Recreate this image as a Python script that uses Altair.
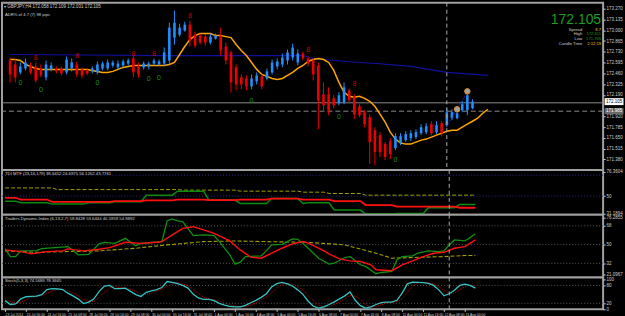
import altair as alt
import pandas as pd

# ------------------------------------------------------------------ data
bar_open = [172.621, 172.571, 172.471, 172.521, 172.558, 172.546, 172.521, 172.409, 172.509, 172.521,
            172.521, 172.471, 172.521, 172.571, 172.509, 172.496, 172.484, 172.471, 172.521, 172.521,
            172.558, 172.534, 172.558, 172.583, 172.646, 172.546, 172.534, 172.546, 172.583, 172.571,
            172.583, 172.621, 172.908, 172.945, 172.995, 173.070, 172.945, 172.933, 172.920, 172.846,
            172.896, 172.933, 172.796, 172.721, 172.534, 172.409, 172.396, 172.296, 172.359, 172.421,
            172.396, 172.471, 172.546, 172.571, 172.621, 172.658, 172.596, 172.708, 172.646, 172.621,
            172.558, 172.196, 172.196, 172.146, 172.084, 172.097, 172.246, 172.171, 172.047, 171.972,
            171.909, 171.747, 171.685, 171.572, 171.610, 171.522, 171.585, 171.622, 171.647, 171.660,
            171.709, 171.722, 171.822, 171.722, 171.834, 171.809, 171.897, 171.897, 171.997, 171.997,
            172.022]
bar_high = [172.658, 172.633, 172.596, 172.646, 172.596, 172.596, 172.571, 172.621, 172.596, 172.546,
            172.546, 172.671, 172.646, 172.608, 172.534, 172.521, 172.546, 172.608, 172.608, 172.633,
            172.621, 172.621, 172.633, 172.646, 172.683, 172.596, 172.608, 172.608, 172.646, 172.633,
            172.783, 173.095, 173.245, 173.083, 173.108, 173.120, 172.983, 172.958, 172.945, 172.958,
            172.958, 173.033, 172.846, 172.746, 172.571, 172.446, 172.434, 172.446, 172.471, 172.446,
            172.521, 172.633, 172.646, 172.708, 172.758, 172.833, 172.758, 172.733, 172.671, 172.646,
            172.596, 172.346, 172.284, 172.184, 172.221, 172.346, 172.271, 172.196, 172.072, 171.997,
            171.947, 171.784, 171.722, 171.597, 171.647, 171.709, 171.709, 171.734, 171.747, 171.759,
            171.822, 171.834, 171.859, 171.859, 171.859, 172.022, 172.009, 171.997, 172.109, 172.246,
            172.134]
bar_low = [172.346, 172.346, 172.446, 172.496, 172.446, 172.346, 172.409, 172.371, 172.484, 172.459,
           172.434, 172.446, 172.484, 172.409, 172.396, 172.434, 172.459, 172.446, 172.496, 172.496,
           172.534, 172.509, 172.534, 172.558, 172.409, 172.409, 172.509, 172.509, 172.558, 172.558,
           172.558, 172.571, 172.821, 172.920, 172.983, 172.796, 172.783, 172.821, 172.808, 172.821,
           172.883, 172.683, 172.571, 172.221, 172.246, 172.259, 172.246, 172.259, 172.321, 172.259,
           172.371, 172.446, 172.509, 172.534, 172.571, 172.621, 172.558, 172.621, 172.546, 172.371,
           171.759, 171.997, 171.934, 172.022, 172.059, 172.072, 172.097, 171.884, 171.909, 171.784,
           171.322, 171.310, 171.410, 171.372, 171.385, 171.497, 171.560, 171.597, 171.610, 171.635,
           171.685, 171.697, 171.685, 171.697, 171.672, 171.784, 171.872, 171.884, 171.972, 171.934,
           172.009]
bar_close = [172.446, 172.409, 172.546, 172.596, 172.471, 172.371, 172.434, 172.571, 172.558, 172.484,
             172.459, 172.633, 172.596, 172.446, 172.434, 172.459, 172.521, 172.571, 172.583, 172.596,
             172.596, 172.583, 172.608, 172.621, 172.471, 172.446, 172.583, 172.583, 172.621, 172.608,
             172.721, 173.033, 173.095, 173.033, 173.070, 172.871, 172.808, 172.846, 172.846, 172.920,
             172.933, 172.746, 172.621, 172.346, 172.321, 172.321, 172.296, 172.396, 172.434, 172.296,
             172.484, 172.596, 172.608, 172.658, 172.721, 172.783, 172.708, 172.646, 172.583, 172.446,
             172.121, 172.059, 171.997, 172.059, 172.184, 172.284, 172.121, 171.947, 171.934, 171.822,
             171.597, 171.472, 171.472, 171.410, 171.447, 171.672, 171.672, 171.697, 171.709, 171.722,
             171.784, 171.797, 171.709, 171.809, 171.709, 171.972, 171.972, 171.959, 172.072, 172.184,
             172.105]

ma_fast = [172.633, 172.633, 172.621, 172.571, 172.546, 172.521, 172.509, 172.509, 172.509, 172.509,
           172.509, 172.509, 172.509, 172.509, 172.509, 172.509, 172.496, 172.484, 172.471, 172.471,
           172.484, 172.509, 172.534, 172.546, 172.558, 172.558, 172.558, 172.558, 172.558, 172.558,
           172.558, 172.571, 172.596, 172.696, 172.796, 172.883, 172.933, 172.958, 172.958, 172.958,
           172.933, 172.933, 172.920, 172.908, 172.821, 172.746, 172.683, 172.596, 172.509, 172.446,
           172.421, 172.396, 172.384, 172.396, 172.434, 172.471, 172.521, 172.558, 172.608, 172.633,
           172.646, 172.633, 172.596, 172.496, 172.346, 172.221, 172.171, 172.159, 172.171, 172.146,
           172.109, 172.047, 171.947, 171.847, 171.722, 171.635, 171.585, 171.572, 171.572, 171.597,
           171.622, 171.635, 171.660, 171.685, 171.709, 171.734, 171.747, 171.747, 171.784, 171.822,
           171.859, 171.897, 171.959, 172.009]
ma_slow_i = [0, 15, 30, 45, 57, 59, 66, 72, 78, 85, 93]
ma_slow_v = [172.696, 172.690, 172.683, 172.683, 172.683, 172.646, 172.605, 172.580, 172.546, 172.471, 172.434]

up_sig_i = [5, 13, 24, 28, 35, 58, 67]
up_sig_p = [172.646, 172.683, 172.708, 172.708, 173.183, 172.746, 172.321]
dn_sig_i = [2, 6, 17, 27, 29, 47, 64, 75]
dn_sig_p = [172.334, 172.246, 172.334, 172.384, 172.396, 172.109, 171.909, 171.372]
zz_i = [85, 87, 89]
zz_p = [171.80, 172.01, 172.23]
circ_i = [87, 89]
circ_p = [172.009, 172.234]

bid_price = 172.105
bid_line = 172.090
ask_line = 171.985
cursor_bar = 85
main_ticks = [173.270, 173.135, 173.000, 172.865, 172.730, 172.595, 172.460, 172.325, 172.190,
              171.920, 171.785, 171.650, 171.515, 171.380, 171.245]

tdi_olive_i = [0, 9, 10, 33, 34, 44, 45, 56, 57, 61, 62, 68, 69, 90]
tdi_olive_v = [58.8, 58.8, 57.0, 57.0, 56.4, 56.4, 55.3, 55.3, 54.2, 54.2, 52.8, 52.8, 51.0, 51.0]
tdi_red_i = [0, 2, 3, 8, 9, 20, 21, 26, 27, 32, 33, 38, 39, 44, 45, 50, 51, 56, 57, 62, 63, 68, 69, 74, 75, 86, 87, 90]
tdi_red_v = [48.2, 48.2, 46.3, 46.3, 43.9, 43.9, 44.6, 44.6, 45.3, 45.3, 46.3, 46.3, 45.7, 45.7, 46.3, 46.3,
             47.4, 47.4, 46.3, 46.3, 44.6, 44.6, 40.4, 40.4, 38.6, 38.6, 37.5, 37.5]
tdi_green_i = [0, 2, 3, 8, 9, 15, 16, 20, 21, 26, 27, 32, 33, 38, 39, 44, 45, 50, 51, 56, 57, 58, 62, 63,
               68, 69, 74, 75, 80, 81, 86, 87, 90]
tdi_green_v = [44.6, 44.6, 42.8, 42.8, 41.4, 41.4, 42.8, 42.8, 43.9, 43.9, 51.0, 51.0, 55.3, 55.3, 45.7, 45.7,
               42.1, 42.1, 47.4, 47.4, 42.1, 42.8, 42.8, 35.0, 35.0, 30.8, 30.8, 31.4, 31.4, 37.5, 37.5, 41.0, 41.0]
tdi_levels = [72.4, 50]
tdi_ticks = [76.3604, 50, 31.1894]

trd_green_i = [0, 1, 2, 3, 6, 7, 12, 13, 14, 16, 18, 19, 21, 23, 25, 26, 28, 30, 31, 32, 33, 34, 36, 38, 40,
               41, 43, 44, 45, 46, 49, 50, 51, 53, 55, 56, 57, 58, 60, 62, 63, 65, 66, 68, 69, 71, 72, 74, 75,
               76, 78, 79, 81, 83, 84, 85, 86, 88, 89, 90]
trd_green_v = [45.9, 38.5, 38.5, 44.0, 44.3, 46.2, 48.1, 44.3, 40.2, 40.7, 50.7, 52.2, 51.2, 56.0, 48.8, 51.2,
               52.0, 52.9, 72.7, 74.6, 72.7, 72.0, 58.6, 59.3, 58.6, 52.9, 40.2, 31.2, 33.1, 38.5, 39.2, 44.0,
               49.7, 50.3, 55.4, 55.1, 51.2, 46.5, 36.9, 31.2, 32.1, 37.6, 38.5, 30.6, 29.0, 22.0, 23.2, 24.2,
               35.4, 38.5, 39.2, 41.7, 44.0, 43.3, 44.0, 49.7, 54.5, 53.5, 56.7, 60.5]
trd_red_i = [0, 3, 5, 8, 11, 12, 15, 18, 20, 23, 26, 29, 30, 32, 34, 36, 38, 40, 43, 45, 47, 49, 51, 53, 55,
             57, 58, 60, 61, 62, 64, 66, 68, 70, 71, 74, 76, 78, 80, 82, 84, 86, 88, 90]
trd_red_v = [44.9, 43.3, 41.1, 43.3, 44.0, 45.9, 44.0, 45.5, 47.1, 52.2, 51.2, 52.2, 52.9, 59.3, 65.6, 67.2,
             64.1, 60.8, 53.5, 44.9, 37.9, 36.9, 41.7, 46.5, 50.7, 52.9, 51.5, 46.5, 44.0, 41.0, 36.3, 34.4,
             33.7, 30.6, 25.8, 24.9, 30.6, 34.4, 38.5, 41.7, 42.6, 46.5, 48.1, 54.5]
trd_olive_i = [0, 6, 12, 18, 25, 31, 38, 44, 50, 57, 61, 65, 71, 74, 78, 84, 88, 90]
trd_olive_v = [44.0, 42.6, 43.3, 44.0, 46.5, 49.7, 52.9, 53.5, 52.9, 52.2, 51.2, 49.7, 41.7, 36.9, 37.6, 38.5,
               39.5, 39.5]
trd_levels = [68, 50, 32]
trd_ticks = [76.2855, 68, 50, 32, 21.0967]

sto_k = [29, 16, 18, 35, 42, 43, 44, 49, 66, 69, 68, 66, 54, 45, 34, 19, 24, 35, 60, 78,
         80, 69, 69, 71, 60, 49, 43, 57, 62, 66, 73, 93, 90, 86, 80, 71, 50, 38, 33, 33,
         29, 20, 14, 10, 8, 8, 13, 22, 30, 40, 52, 75, 86, 90, 85, 78, 65, 50, 27, 10,
         4, 8, 16, 25, 35, 45, 58, 30, 12, 4, 8, 16, 22, 24, 24, 30, 55, 85, 91, 90,
         89, 87, 80, 65, 45, 52, 64, 80, 84, 80, 71]
sto_d = [35, 26, 21, 23, 32, 40, 43, 45, 53, 61, 68, 68, 63, 55, 44, 33, 26, 26, 40, 58,
         73, 76, 73, 70, 67, 60, 51, 50, 54, 62, 67, 77, 85, 90, 85, 79, 67, 53, 40, 35,
         32, 27, 21, 15, 11, 9, 10, 14, 22, 31, 41, 56, 71, 84, 87, 84, 76, 64, 47, 29,
         14, 7, 9, 16, 25, 35, 46, 44, 33, 15, 8, 10, 15, 21, 23, 26, 36, 57, 77, 89,
         90, 89, 85, 77, 63, 54, 54, 65, 76, 81, 78]
sto_levels = [80, 20]
sto_ticks = [100, 80, 20, 0]

time_labels = ["23 Jul 2014", "24 Jul 00:00", "24 Jul 16:00", "25 Jul 08:00", "28 Jul 00:00",
               "28 Jul 16:00", "29 Jul 08:00", "30 Jul 00:00", "30 Jul 16:00", "31 Jul 08:00",
               "1 Aug 00:00", "1 Aug 16:00", "4 Aug 08:00", "5 Aug 00:00", "5 Aug 16:00",
               "6 Aug 08:00", "7 Aug 00:00", "7 Aug 16:00", "8 Aug 08:00", "11 Aug 00:00",
               "11 Aug 16:00", "12 Aug 08:00", "13 Aug 00:00"]
time_label_bars = list(range(0, 89, 4))

header_1 = "\u25be GBPJPY,H4  172.058 172.109 172.031 172.105"
header_2 = "ADR% of 4.7 (7)    98 pips"
info_labels = ["Spread", "High", "Low", "Candle Time"]
info_values = ["8.7", "172.411", "171.765", "2:12:19"]
title_tdi = "TDI MTF (23,16,179) 38.6452 24.6975 56.1262 43.7761"
title_trd = "Traders Dynamic Index (6,13,2,7) 58.8428 53.6444 40.5959 54.9892"
title_sto = "Stoch(5,3,3) 74.5686 78.3665"

# ------------------------------------------------------------------ style / layout
W = 604
H_MAIN, H_TDI, H_TRD, H_STO = 168, 45, 63, 32
X_DOMAIN = [-0.6, 114.45]
FONT = "Liberation Sans"
TXT = "#cfcfcf"
UP, DOWN = "#1E90FF", "#EE0000"
GREEN, YELLOW = "#1d9d1d", "#e6c200"

xscale = alt.Scale(domain=X_DOMAIN, nice=False, zero=False)


def X(axis=None):
    if axis is None:
        return alt.X("i:Q", scale=xscale, axis=None)
    return alt.X("i:Q", scale=xscale, axis=axis, title=None)


def Y(field, scale, axis):
    return alt.Y(field, scale=scale, axis=axis, title=None)


def text_at(txt, x, y, color, size, align="left", baseline="middle"):
    return alt.Chart(pd.DataFrame({"t": [txt]})).mark_text(
        align=align, baseline=baseline, color=color, fontSize=size, font=FONT
    ).encode(text="t:N", x=alt.value(x), y=alt.value(y))


def cursor(xaxis=None):
    return alt.Chart(pd.DataFrame({"i": [cursor_bar]})).mark_rule(
        color="#a8a8a8", strokeDash=[4, 3], strokeWidth=1
    ).encode(x=X(xaxis))


def series(ix, vals, scale, axis, xaxis=None, **mark):
    return alt.Chart(pd.DataFrame({"i": ix, "v": vals})).mark_line(**mark).encode(
        x=X(xaxis), y=Y("v:Q", scale, axis)
    )


def levels(vals, scale, axis, color):
    return alt.Chart(pd.DataFrame({"v": vals})).mark_rule(
        color=color, strokeDash=[1, 2], strokeWidth=1
    ).encode(y=Y("v:Q", scale, axis))


# ------------------------------------------------------------------ main panel
ysc = alt.Scale(domain=[171.248, 173.345], nice=False, zero=False)
ax1 = alt.Axis(orient="right", values=main_ticks, format=".3f")

candles = pd.DataFrame({"i": list(range(len(bar_open))), "o": bar_open, "h": bar_high,
                        "l": bar_low, "c": bar_close})
candles["dir"] = ["up" if c >= o else "down" for o, c in zip(bar_open, bar_close)]
ccol = alt.Color("dir:N", scale=alt.Scale(domain=["up", "down"], range=[UP, DOWN]), legend=None)

bid = alt.Chart(pd.DataFrame({"p": [bid_line]})).mark_rule(color="#8a8a8a", strokeWidth=1).encode(
    y=Y("p:Q", ysc, ax1))
ask = alt.Chart(pd.DataFrame({"p": [ask_line]})).mark_rule(
    color="#8a8a8a", strokeWidth=1, strokeDash=[5, 3]).encode(y=Y("p:Q", ysc, ax1))
slow = series(ma_slow_i, ma_slow_v, ysc, ax1, color="#1010a0", strokeWidth=1.2)
fast = series(list(range(len(ma_fast))), ma_fast, ysc, ax1, color="#FFA500", strokeWidth=1.5)
wick = alt.Chart(candles).mark_rule(strokeWidth=1).encode(
    x=X(), y=Y("l:Q", ysc, ax1), y2="h:Q", color=ccol)
body = alt.Chart(candles).mark_bar(size=2.6).encode(
    x=X(), y=Y("o:Q", ysc, ax1), y2="c:Q", color=ccol)
up_sig = alt.Chart(pd.DataFrame({"i": up_sig_i, "p": up_sig_p})).mark_text(
    text="8", color="#d00000", fontSize=7, font=FONT).encode(x=X(), y=Y("p:Q", ysc, ax1))
dn_sig = alt.Chart(pd.DataFrame({"i": dn_sig_i, "p": dn_sig_p})).mark_text(
    text="0", color="#1f8f1f", fontSize=7, font=FONT).encode(x=X(), y=Y("p:Q", ysc, ax1))
zz = alt.Chart(pd.DataFrame({"i": zz_i, "p": zz_p})).mark_line(
    color="#2a2ad0", strokeDash=[1, 1], strokeWidth=1).encode(x=X(), y=Y("p:Q", ysc, ax1))
circ = alt.Chart(pd.DataFrame({"i": circ_i, "p": circ_p})).mark_point(
    shape="circle", filled=True, size=30, color="#a0a0a0", stroke="#e08a20", strokeWidth=1,
    opacity=1).encode(x=X(), y=Y("p:Q", ysc, ax1))

price_box = alt.Chart(pd.DataFrame({"p": [bid_price]})).mark_tick(
    orient="horizontal", size=19, thickness=7, color="#ffffff", opacity=1).encode(
    x=alt.value(W + 11), y=Y("p:Q", ysc, ax1))
price_box_t = alt.Chart(pd.DataFrame({"p": [bid_price]})).mark_text(
    text=f"{bid_price:.3f}", color="#000000", fontSize=4.5, font=FONT).encode(
    x=alt.value(W + 11), y=Y("p:Q", ysc, ax1))
ask_box = alt.Chart(pd.DataFrame({"p": [ask_line]})).mark_tick(
    orient="horizontal", size=19, thickness=6, color="#6a6a6a", opacity=1).encode(
    x=alt.value(W + 11), y=Y("p:Q", ysc, ax1))
ask_box_t = alt.Chart(pd.DataFrame({"p": [ask_line]})).mark_text(
    text=f"{ask_line:.3f}", color="#ffffff", fontSize=4.5, font=FONT).encode(
    x=alt.value(W + 11), y=Y("p:Q", ysc, ax1))

info = [text_at(header_1, 2, 4, TXT, 4.5), text_at(header_2, 3, 12, TXT, 4.2),
        text_at(f"{bid_price:.3f}", W - 2, 21, GREEN, 14, align="right", baseline="alphabetic")]
val_colors = [YELLOW, GREEN, GREEN, YELLOW]
for k, (lab, val) in enumerate(zip(info_labels, info_values)):
    info.append(text_at(lab, W - 21, 27 + 4.8 * k, TXT, 4.2, align="right"))
    info.append(text_at(val, W - 2, 27 + 4.8 * k, val_colors[k], 4.2, align="right"))

main = alt.layer(bid, ask, slow, fast, wick, body, cursor(), up_sig, dn_sig, zz, circ,
                 price_box, price_box_t, ask_box, ask_box_t, *info).properties(width=W, height=H_MAIN)

# ------------------------------------------------------------------ TDI MTF panel
ysc2 = alt.Scale(domain=[30.0, 78.07], nice=False, zero=False)
ax2 = alt.Axis(orient="right", values=tdi_ticks,
               labelExpr="datum.value == 50 ? '50' : format(datum.value, '.4f')")
tdi = alt.layer(
    levels(tdi_levels, ysc2, ax2, "#2a2a8a"),
    series(tdi_olive_i, tdi_olive_v, ysc2, ax2, color="#a0a000", strokeDash=[4, 2], strokeWidth=1),
    series(tdi_green_i, tdi_green_v, ysc2, ax2, color="#0c8a0c", strokeWidth=1.5),
    series(tdi_red_i, tdi_red_v, ysc2, ax2, color="#ff1010", strokeWidth=1.8),
    cursor(),
    text_at(title_tdi, 3, 4, TXT, 4.3),
).properties(width=W, height=H_TDI)

# ------------------------------------------------------------------ Traders Dynamic Index panel
ysc3 = alt.Scale(domain=[18.45, 78.7], nice=False, zero=False)
ax3 = alt.Axis(orient="right", values=trd_ticks,
               labelExpr="datum.value % 1 == 0 ? format(datum.value, 'd') : format(datum.value, '.4f')")
trd = alt.layer(
    levels(trd_levels, ysc3, ax3, "#5a5a5a"),
    series(trd_olive_i, trd_olive_v, ysc3, ax3, color="#a0a000", strokeDash=[4, 2], strokeWidth=1.1),
    series(trd_green_i, trd_green_v, ysc3, ax3, color="#129012", strokeWidth=1.3),
    series(trd_red_i, trd_red_v, ysc3, ax3, color="#ff1010", strokeWidth=1.4),
    cursor(),
    text_at(title_trd, 3, 4, TXT, 4.3),
).properties(width=W, height=H_TRD)

# ------------------------------------------------------------------ Stochastic panel
ysc4 = alt.Scale(domain=[0, 106.7], nice=False, zero=False)
ax4 = alt.Axis(orient="right", values=sto_ticks, format="d")
labels_js = "[" + ",".join("'" + s + "'" for s in time_labels) + "]"
xaxis = alt.Axis(values=time_label_bars, labelExpr=labels_js + "[round(datum.value / 4)]",
                 labelAlign="left", labelBaseline="top", labelFontSize=3.4, labelPadding=1,
                 labelLimit=21, tickSize=2, labelOverlap=False, labelFlush=False)
bars_idx = list(range(len(sto_k)))
sto = alt.layer(
    alt.Chart(pd.DataFrame({"v": sto_levels})).mark_rule(
        color="#5a5a5a", strokeDash=[1, 2], strokeWidth=1).encode(
        x=alt.value(0), x2=alt.value(W), y=Y("v:Q", ysc4, ax4)),
    series(bars_idx, sto_d, ysc4, ax4, xaxis, color="#c00000", strokeDash=[1, 1], strokeWidth=1),
    series(bars_idx, sto_k, ysc4, ax4, xaxis, color="#35c4c4", strokeWidth=1.3),
    cursor(xaxis),
    text_at(title_sto, 3, 4, TXT, 4.3),
).properties(width=W, height=H_STO)

chart = alt.vconcat(main, tdi, trd, sto, spacing=0, bounds="flush").properties(
    padding=0, background="#000000"
).configure_view(
    stroke="#a0a0a0", strokeWidth=2, fill="#000000"
).configure_axis(
    labelColor=TXT, tickColor=TXT, labelFont=FONT, labelFontSize=4.5, domain=False, grid=False,
    tickSize=2, labelPadding=1, labelFlush=False
)

chart.save("out.html", embed_options={"renderer": "svg", "actions": False})
